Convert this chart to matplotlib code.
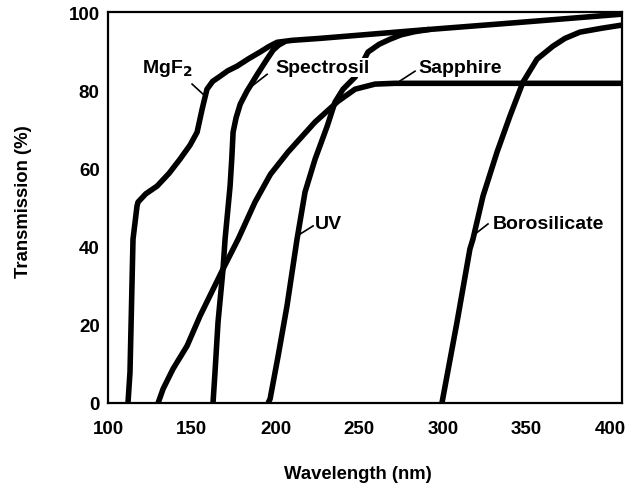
import matplotlib.pyplot as plt

plt.rcParams['font.family'] = ['Liberation Sans', 'DejaVu Sans']

# 读图得到的透过率曲线 (nm, %)
mgf2_wl = [111.9, 113.1, 114.9, 117.3, 117.9, 122.5, 129.3, 136.5, 143.0, 149.0, 153.2, 156.2,
           159.1, 162.5, 166.9, 171.5, 177.1, 184.0, 190.8, 196.0, 201.0, 210.0, 226.6, 286.4,
           346.1, 407]
mgf2_t = [0, 7.9, 41.9, 50.4, 51.4, 53.5, 55.5, 58.8, 62.4, 66.0, 69.3, 75.2,
          80.3, 82.3, 83.6, 85.0, 86.2, 88.1, 89.8, 91.2, 92.3, 92.8, 93.3, 95.4,
          97.4, 99.5]

spec_wl = [162.7, 163.9, 165.7, 168.7, 169.9, 172.9, 173.9, 174.7, 176.5, 179.0, 183.0, 189.0,
           195.0, 198.6, 202.0, 205.7]
spec_t = [0, 7.9, 20.7, 34.3, 41.9, 55.5, 62.4, 69.3, 73.0, 76.5, 79.8, 84.0,
          88.0, 90.3, 91.6, 92.5]

uv_wl = [195.6, 196.8, 201.6, 206.9, 212.9, 217.7, 223.7, 230.9, 235.6, 240.4, 247.6,
         255.3, 262.0, 268.0, 275.0, 283.0, 292.0]
uv_t = [0, 1.0, 12.0, 24.8, 41.9, 54.0, 62.4, 70.8, 77.0, 80.3, 83.4,
        89.8, 91.8, 93.0, 94.2, 95.0, 95.6]

sapph_wl = [129.9, 132.9, 138.8, 147.2, 155.0, 168.7, 177.7, 187.8, 197.0, 207.5, 223.7,
            237.4, 247.6, 259.5, 271.4, 407]
sapph_t = [0, 3.6, 8.7, 14.6, 22.3, 34.3, 41.9, 51.4, 58.5, 64.2, 71.9,
           77.2, 80.3, 81.6, 81.8, 81.8]

boro_wl = [299.5, 308.5, 316.2, 318.0, 324.0, 332.4, 340.1, 347.9, 356.3, 365.8, 373.0,
           381.9, 395.0, 407]
boro_t = [0, 20.7, 39.4, 41.9, 52.9, 64.2, 73.4, 82.1, 88.0, 91.3, 93.3,
          94.9, 95.9, 96.7]

xticks = [100, 150, 200, 250, 300, 350, 400]
yticks = [0, 20, 40, 60, 80, 100]

fig = plt.figure(figsize=(6.32, 4.89), dpi=100)
ax = fig.add_axes([0.171, 0.174, 0.813, 0.799])

for wl, t in [(mgf2_wl, mgf2_t), (spec_wl, spec_t), (uv_wl, uv_t),
              (sapph_wl, sapph_t), (boro_wl, boro_t)]:
    ax.plot(wl, t, color='black', lw=4, solid_joinstyle='round', solid_capstyle='butt', zorder=2)

ax.set_xlim(100, 407)
ax.set_ylim(0, 100)
ax.set_xticks(xticks)
ax.set_yticks(yticks)
ax.tick_params(length=0, labelsize=13.5, pad=6)
ax.tick_params(axis='x', pad=12)
for lab in ax.get_xticklabels() + ax.get_yticklabels():
    lab.set_fontweight('bold')
for s in ax.spines.values():
    s.set_linewidth(1.6)

ax.set_xlabel('Wavelength (nm)', fontsize=13.3, fontweight='bold')
ax.set_ylabel('Transmission (%)', fontsize=13.3, fontweight='bold')
ax.xaxis.set_label_coords(0.486, -0.158)
ax.yaxis.set_label_coords(-0.148, 0.519)

# 曲线标注
kw = dict(fontsize=14, fontweight='bold', ha='left', va='center', zorder=3)
ax.text(120.3, 85.9, 'MgF$_\\mathbf{2}$', **kw)
ax.plot([150.2, 156.8], [81.6, 79.0], color='black', lw=1.2)
ax.text(199.8, 85.9, 'Spectrosil',
        bbox=dict(facecolor='white', edgecolor='none', pad=0.5), **kw)
ax.plot([195.0, 186.0], [84.1, 81.1], color='black', lw=1.2)
ax.text(285.2, 85.9, 'Sapphire', **kw)
ax.plot([283.4, 274.4], [84.9, 82.4], color='black', lw=1.2)
ax.text(223.7, 46.0, 'UV', **kw)
ax.plot([222.5, 214.7], [45.3, 43.2], color='black', lw=1.2)
ax.text(330.0, 46.0, 'Borosilicate', **kw)
ax.plot([327.0, 319.2], [45.8, 43.2], color='black', lw=1.2)

plt.savefig('out.png', dpi=100)
